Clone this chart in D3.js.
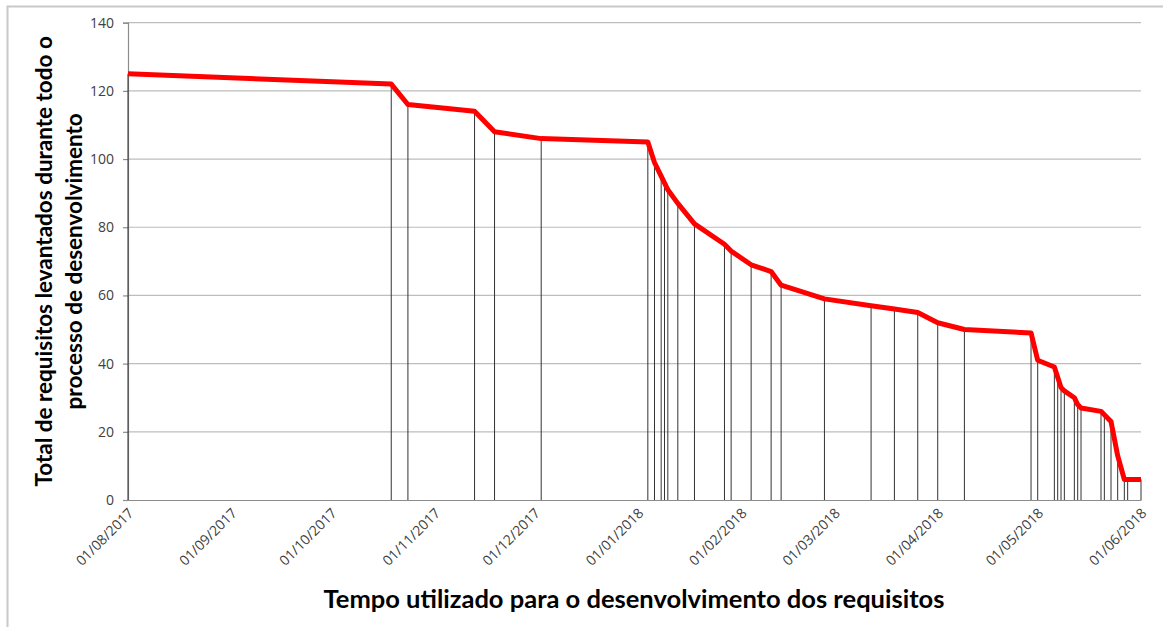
<!DOCTYPE html>
<html>
<head>
<meta charset="utf-8">
<script src="https://cdn.jsdelivr.net/npm/d3@7"></script>
<style>
  body { margin: 0; background: #fff; }
  svg { display: block; }
  .tick text { font-family: "Open Sans", "Noto Sans", sans-serif; fill: #404040; }
</style>
</head>
<body>
<svg id="svg" width="1163" height="627"></svg>
<script>
(function() {

// dates (dd/mm/yyyy) and remaining requirement totals
var dates = [
  '01/08/2017', '19/10/2017', '24/10/2017', '13/11/2017', '19/11/2017', '03/12/2017',
  '04/01/2018', '06/01/2018', '08/01/2018', '09/01/2018', '10/01/2018', '13/01/2018',
  '18/01/2018', '27/01/2018', '29/01/2018', '04/02/2018', '10/02/2018', '13/02/2018',
  '26/02/2018', '12/03/2018', '19/03/2018', '26/03/2018', '01/04/2018', '09/04/2018',
  '29/04/2018', '01/05/2018', '06/05/2018', '07/05/2018', '08/05/2018', '09/05/2018',
  '12/05/2018', '13/05/2018', '14/05/2018', '20/05/2018', '21/05/2018', '23/05/2018',
  '25/05/2018', '27/05/2018', '28/05/2018', '01/06/2018'
];
var totals = [
  125, 122, 116, 114, 108, 106,
  105, 99, 95, 93, 91, 87,
  81, 75, 73, 69, 67, 63,
  59, 57, 56, 55, 52, 50,
  49, 41, 39, 36, 33, 32,
  30, 28, 27, 26, 25, 23,
  13, 6, 6, 6
];
var axisStart = '01/08/2017';
var axisEnd = '01/06/2018';
var yTicks = [0, 20, 40, 60, 80, 100, 120, 140];

var yTitle = ['Total de requisitos levantados durante todo o', 'processo de desenvolvimento'];
var xTitle = 'Tempo utilizado para o desenvolvimento dos requisitos';

var parse = d3.timeParse('%d/%m/%Y');
var data = dates.map((d, i) => ({date: parse(d), total: totals[i]}));

var svg = d3.select('#svg');

// outer frame (only top and left show inside the window)
svg.append('rect')
  .attr('x', 7.5).attr('y', 6.5)
  .attr('width', 1200).attr('height', 700)
  .attr('fill', '#fff')
  .attr('stroke', '#c8c8c8')
  .attr('stroke-width', 2);

var left = 128, right = 1141, top = 22.7, bottom = 500;

var x = d3.scaleTime()
  .domain([parse(axisStart), parse(axisEnd)])
  .range([left, right]);
var y = d3.scaleLinear()
  .domain([0, 140])
  .range([bottom, top]);

// horizontal grid
svg.append('g')
  .selectAll('line')
  .data(yTicks.slice(1))
  .enter().append('line')
  .attr('x1', left).attr('x2', right)
  .attr('y1', d => y(d)).attr('y2', d => y(d))
  .attr('stroke', '#bdbdbd')
  .attr('stroke-width', 1.2);

// y axis
var yAxis = svg.append('g')
  .attr('transform', 'translate(' + left + ',0)')
  .call(d3.axisLeft(y).tickValues(yTicks).tickSize(5).tickPadding(9));
yAxis.selectAll('path, line').attr('stroke', '#8c8c8c').attr('stroke-width', 1.2);
yAxis.selectAll('text').style('font-size', '14px');

// x axis
var xAxis = svg.append('g')
  .attr('transform', 'translate(0,' + bottom + ')')
  .call(d3.axisBottom(x).ticks(d3.timeMonth.every(1)).tickFormat(d3.timeFormat('%d/%m/%Y')).tickSize(0));
xAxis.select('.domain').attr('stroke', '#8c8c8c').attr('stroke-width', 1.2);
xAxis.selectAll('text')
  .style('font-size', '14px')
  .attr('text-anchor', 'end')
  .attr('y', 0).attr('dy', 0)
  .attr('transform', 'translate(6,14) rotate(-45)');

// drop lines from every point down to the axis
svg.append('g')
  .selectAll('line')
  .data(data)
  .enter().append('line')
  .attr('x1', d => x(d.date)).attr('x2', d => x(d.date))
  .attr('y1', d => y(d.total)).attr('y2', bottom)
  .attr('stroke', '#333')
  .attr('stroke-width', 1);

// the series
svg.append('path')
  .datum(data)
  .attr('fill', 'none')
  .attr('stroke', '#ff0000')
  .attr('stroke-width', 5)
  .attr('stroke-linejoin', 'round')
  .attr('d', d3.line().x(d => x(d.date)).y(d => y(d.total)));

// titles
var ty = svg.append('text')
  .attr('transform', 'translate(52,' + ((top + bottom) / 2) + ') rotate(-90)')
  .attr('text-anchor', 'middle')
  .style('font-family', 'Lato, "Open Sans", sans-serif')
  .style('font-weight', 'bold')
  .style('font-size', '22.5px')
  .attr('fill', '#000');
ty.selectAll('tspan')
  .data(yTitle)
  .enter().append('tspan')
  .attr('x', 0)
  .attr('dy', (d, i) => i ? '1.32em' : 0)
  .text(d => d);

svg.append('text')
  .attr('x', 634).attr('y', 608)
  .attr('text-anchor', 'middle')
  .style('font-family', 'Lato, "Open Sans", sans-serif')
  .style('font-weight', 'bold')
  .style('font-size', '25.5px')
  .attr('fill', '#000')
  .text(xTitle);

})();
</script>
</body>
</html>
